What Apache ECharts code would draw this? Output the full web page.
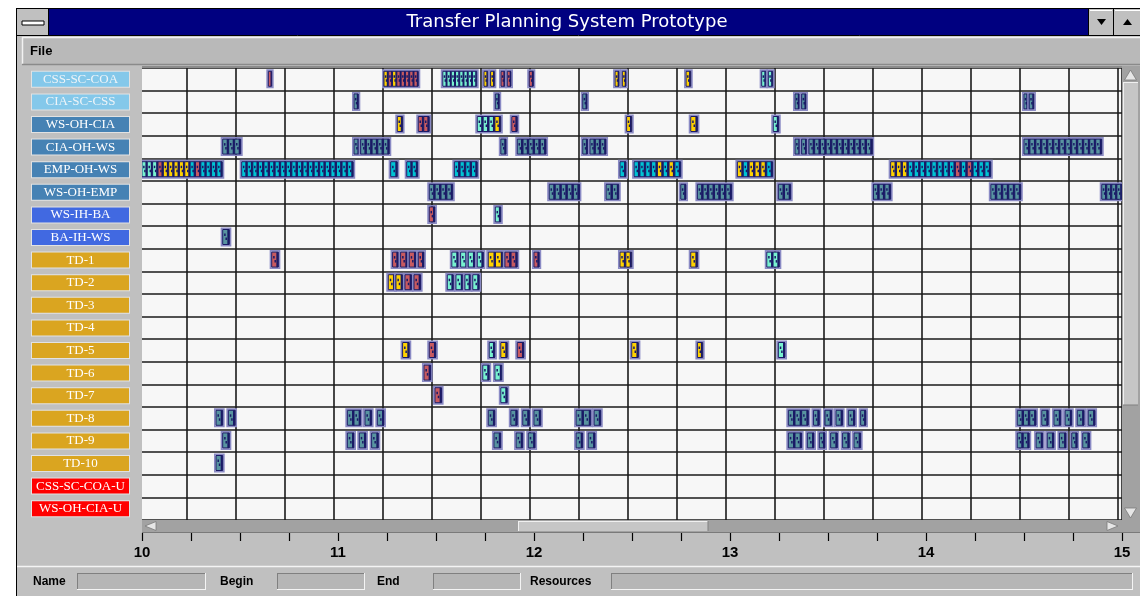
<!DOCTYPE html>
<html>
<head>
<meta charset="utf-8">
<script src="https://cdn.jsdelivr.net/npm/echarts@6/dist/echarts.min.js"></script>
<style>
html,body{margin:0;padding:0;background:#fff;}
#chart{width:1140px;height:596px;}
</style>
</head>
<body>
<div id="chart"></div>
<script>
// ---- categories (resource rows) ----
const categories = ['CSS-SC-COA','CIA-SC-CSS','WS-OH-CIA','CIA-OH-WS','EMP-OH-WS','WS-OH-EMP','WS-IH-BA','BA-IH-WS',
  'TD-1','TD-2','TD-3','TD-4','TD-5','TD-6','TD-7','TD-8','TD-9','TD-10','CSS-SC-COA-U','WS-OH-CIA-U'];
const labelKinds = ['sky','sky','steel','steel','steel','steel','royal','royal',
  'gold','gold','gold','gold','gold','gold','gold','gold','gold','gold','red','red'];
// ---- axis ticks (hours) ----
const hourTicks = [10, 11, 12, 13, 14, 15];

// ---- tasks per row: [start hour, end hour, unit colour codes] ----
const cssScCoa = [[10.665,10.682,'r'],[11.255,11.430,'yryrrrrr'],[11.555,11.728,'aaaaaaaa'],[11.765,11.784,'y'],[11.799,11.818,'y'],
  [11.852,11.871,'r'],[11.884,11.903,'r'],[11.996,12.017,'r'],[12.434,12.454,'y'],[12.471,12.490,'y'],[12.796,12.820,'y'],
  [13.182,13.203,'a'],[13.216,13.238,'a']];
const ciaScCss = [[11.102,11.124,'t'],[11.823,11.843,'t'],[12.269,12.291,'t'],[13.352,13.374,'t'],[13.386,13.408,'t'],
  [14.520,14.539,'t'],[14.547,14.571,'t']];
const wsOhCia = [[11.323,11.350,'y'],[11.430,11.486,'rr'],[11.731,11.851,'aaay'],[11.907,11.935,'r'],[12.493,12.519,'y'],
  [12.820,12.854,'y'],[13.241,13.269,'a']];
const ciaOhWs = [[10.432,10.524,'ttt'],[11.102,11.129,'t'],[11.136,11.282,'ttttt'],[11.851,11.878,'t'],[11.935,12.082,'ttttt'],
  [12.269,12.294,'t'],[12.306,12.388,'ttt'],[13.352,13.378,'t'],[13.386,13.412,'t'],[13.423,13.746,'ttttttttttt'],
  [14.520,14.917,'ttttttttttttt']];
const empOhWs = [[10.020,10.430,'aaaryyyyycrcccc'],[10.529,11.098,'cccccccccccccccccccc'],[11.289,11.323,'c'],[11.371,11.427,'cc'],
  [11.614,11.731,'cccc'],[12.459,12.490,'c'],[12.531,12.769,'ccccycyc'],[13.058,13.238,'ycyyyc'],[13.840,14.351,'yyyccccccccrcrccc']];
const wsOhEmp = [[11.486,11.606,'tttt'],[12.098,12.252,'ttttt'],[12.388,12.453,'tt'],[12.769,12.796,'t'],[12.854,13.029,'tttttt'],
  [13.267,13.330,'tt'],[13.752,13.840,'ttt'],[14.351,14.504,'ttttt'],[14.917,15.020,'tttt']];
const wsIhBa = [[11.486,11.515,'r'],[11.823,11.851,'a']];
const baIhWs = [[10.432,10.466,'t']];
const td1 = [[10.682,10.716,'r'],[11.299,11.328,'r'],[11.340,11.374,'r'],[11.384,11.418,'r'],[11.430,11.459,'r'],[11.601,11.634,'a'],
  [11.646,11.680,'a'],[11.685,11.719,'a'],[11.731,11.762,'a'],[11.787,11.861,'yy'],[11.872,11.935,'rr'],[12.020,12.047,'r'],
  [12.459,12.519,'yy'],[12.820,12.854,'y'],[13.208,13.272,'aa']];
const td2 = [[11.277,11.311,'y'],[11.316,11.350,'y'],[11.362,11.396,'r'],[11.408,11.442,'r'],[11.578,11.609,'a'],[11.622,11.657,'a'],
  [11.668,11.697,'a'],[11.708,11.741,'a']];
const td3 = [];
const td4 = [];
const td5 = [[11.350,11.384,'y'],[11.486,11.520,'r'],[11.792,11.821,'a'],[11.851,11.884,'y'],[11.935,11.969,'r'],[12.519,12.553,'y'],
  [12.854,12.881,'y'],[13.267,13.301,'a']];
const td6 = [[11.459,11.493,'r'],[11.759,11.792,'a'],[11.821,11.856,'a']];
const td7 = [[11.515,11.549,'r'],[11.851,11.884,'a']];
const td8 = [[10.398,10.432,'t'],[10.461,10.495,'t'],[11.068,11.136,'tt'],[11.158,11.192,'t'],[11.221,11.255,'t'],[11.787,11.821,'t'],
  [11.902,11.935,'t'],[11.963,11.996,'t'],[12.020,12.055,'t'],[12.235,12.310,'tt'],[12.327,12.361,'t'],[13.318,13.420,'ttt'],
  [13.446,13.476,'t'],[13.505,13.539,'t'],[13.561,13.595,'t'],[13.624,13.658,'t'],[13.687,13.714,'t'],[14.486,14.582,'ttt'],
  [14.611,14.644,'t'],[14.673,14.708,'t'],[14.730,14.764,'t'],[14.792,14.827,'t'],[14.848,14.883,'t']];
const td9 = [[10.432,10.466,'t'],[11.068,11.102,'t'],[11.129,11.163,'t'],[11.192,11.226,'t'],[11.816,11.851,'t'],[11.929,11.963,'t'],
  [11.991,12.026,'t'],[12.235,12.269,'t'],[12.297,12.332,'t'],[13.318,13.386,'tt'],[13.415,13.449,'t'],[13.476,13.505,'t'],
  [13.534,13.568,'t'],[13.595,13.629,'t'],[13.653,13.687,'t'],[14.486,14.547,'tt'],[14.582,14.616,'t'],[14.639,14.673,'t'],
  [14.701,14.735,'t'],[14.764,14.792,'t'],[14.820,14.854,'t']];
const td10 = [[10.398,10.432,'t']];
const cssScCoaU = [];
const wsOhCiaU = [];

const rows = [cssScCoa, ciaScCss, wsOhCia, ciaOhWs, empOhWs, wsOhEmp, wsIhBa, baIhWs, td1, td2, td3, td4, td5, td6, td7,
  td8, td9, td10, cssScCoaU, wsOhCiaU];

const unitColors = { c:'#00c4d4', a:'#78f2d0', t:'#5894a0', y:'#ffd200', r:'#c85a60' };
const navy = '#1a1a66';

const seriesData = [];
const codes = [];
rows.forEach((tasks, ri) => tasks.forEach(t => { seriesData.push([ri, t[0], t[1]]); codes.push(t[2]); }));

function renderItem(params, api) {
  const ri = api.value(0), s = api.value(1), e = api.value(2);
  const p0 = api.coord([s, ri]);
  const p1 = api.coord([e, ri]);
  const code = codes[params.dataIndex];
  const h = 15;
  const y = p0[1] - 8;
  const x0 = p0[0];
  const w = p1[0] - p0[0];
  const n = code.length;
  const uw = w / n;
  const children = [];
  children.push({type:'rect', shape:{x:x0-1.2, y:y-1.2, width:w+2.4, height:h+2.4},
    style:{fill:'none', stroke:'#8a8ac4', lineWidth:1.6}});
  for (let i = 0; i < n; i++) {
    const ux = x0 + i * uw;
    children.push({type:'rect', shape:{x:ux, y:y, width:uw, height:h},
      style:{fill:unitColors[code[i]], stroke:navy, lineWidth:1}});
    const sw = Math.min(2, uw * 0.35);
    children.push({type:'rect', shape:{x:ux + uw - sw, y:y, width:sw, height:h}, style:{fill:navy}});
    if (uw > 3.5) {
      children.push({type:'rect', shape:{x:ux + uw*0.22, y:y + 4, width:1.5, height:2.5}, style:{fill:navy}});
      children.push({type:'rect', shape:{x:ux + uw*0.42, y:y + 8, width:1.5, height:2.5}, style:{fill:navy}});
    }
  }
  return {type:'group', children};
}

const labelBase = {width:97, height:15, lineHeight:15, align:'center', verticalAlign:'middle',
  fontFamily:'Liberation Serif', fontSize:13, borderColor:'#e2e2e2', borderWidth:1};
const rich = {
  sky: Object.assign({}, labelBase, {backgroundColor:'#84c8ea', color:'#eef4f8'}),
  steel: Object.assign({}, labelBase, {backgroundColor:'#4682b4', color:'#ffffff'}),
  royal: Object.assign({}, labelBase, {backgroundColor:'#4169e1', color:'#ffffff'}),
  gold: Object.assign({}, labelBase, {backgroundColor:'#daa520', color:'#ffffff'}),
  red: Object.assign({}, labelBase, {backgroundColor:'#ff0000', color:'#ffffff'})
};

const G = '#c0c0c0';
const Z = 100;
function rect(x, y, w, h, fill, extra) {
  return Object.assign({type:'rect', z:Z, shape:{x, y, width:w, height:h}, style:{fill}}, extra || {});
}
function line(x1, y1, x2, y2, stroke, lw) {
  return {type:'line', z:Z+1, shape:{x1, y1, x2, y2}, style:{stroke, lineWidth: lw || 1}};
}
function txt(x, y, t, font, fill, align) {
  return {type:'text', z:Z+2, x, y, style:{text:t, font, fill, align: align || 'left', verticalAlign:'middle'}};
}
function poly(points, fill) {
  return {type:'polygon', z:Z+2, shape:{points}, style:{fill, stroke:'#7a7a7a', lineWidth:0.8}};
}
function field(x, y, w, h) {
  return [rect(x, y, w, h, '#b6b6b6'), line(x, y+0.5, x+w, y+0.5, '#808080'), line(x+0.5, y, x+0.5, y+h, '#808080'),
    line(x, y+h-0.5, x+w, y+h-0.5, '#f4f4f4'), line(x+w-0.5, y, x+w-0.5, y+h, '#f4f4f4')];
}

const graphics = [].concat(
  [rect(0, 0, 1140, 8, '#ffffff'), rect(0, 0, 16, 596, '#ffffff'),
   line(16.5, 8, 16.5, 596, '#000', 1), line(16, 8.5, 1140, 8.5, '#000', 1),
   // title bar
   rect(17, 9, 1123, 26, '#000080'),
   rect(17, 9, 31, 26, G), line(48.5, 9, 48.5, 35, '#000', 1),
   rect(22, 21, 22, 4, '#ffffff', {style:{fill:'#ffffff', stroke:'#000', lineWidth:1}}),
   txt(567, 22.5, 'Transfer Planning System Prototype', '18px "DejaVu Sans"', '#ffffff', 'center'),
   rect(1089, 9, 24, 26, G), rect(1114, 9, 26, 26, G),
   line(1088.5, 9, 1088.5, 35, '#000'), line(1113.5, 9, 1113.5, 35, '#000'),
   line(1090, 10.5, 1112, 10.5, '#fff'), line(1115, 10.5, 1140, 10.5, '#fff'),
   {type:'polygon', z:Z+2, shape:{points:[[1097,19],[1106,19],[1101.5,25]]}, style:{fill:'#000'}},
   {type:'polygon', z:Z+2, shape:{points:[[1123,25],[1132,25],[1127.5,19]]}, style:{fill:'#000'}},
   line(17, 35.5, 1140, 35.5, '#000', 1),
   // menu bar
   rect(17, 36, 1123, 30, G),
   rect(22, 38, 1118, 26, '#b9b9b9'),
   line(22, 37.5, 1140, 37.5, '#f2f2f2', 1.5), line(22.5, 37, 22.5, 64, '#f2f2f2', 1.5),
   line(22, 64.5, 1140, 64.5, '#8a8a8a', 1.5),
   txt(30, 51.5, 'File', 'bold 13px "Liberation Sans"', '#000'),
   // mask left edge of plot and plot top edge
   rect(130, 66, 12, 456, G),
   line(142, 67, 1122, 67, '#8c8c8c', 2),
   // horizontal scrollbar
   rect(142, 520, 980, 12, '#a2a2a2'),
   rect(518, 521, 190, 10, '#c6c6c6'), line(518, 521.5, 708, 521.5, '#f0f0f0'), line(518.5, 521, 518.5, 531, '#f0f0f0'),
   line(708, 521, 708, 531, '#808080'),
   poly([[145,526],[156,521.5],[156,530.5]], '#e6e6e6'),
   poly([[1118,526],[1107,521.5],[1107,530.5]], '#e6e6e6'),
   line(142, 532.5, 1140, 532.5, '#7a7a7a', 1),
   // vertical scrollbar
   rect(1122, 66, 18, 466, '#a2a2a2'),
   rect(1123, 82, 15, 323, '#c6c6c6'), line(1123.5, 82, 1123.5, 405, '#f0f0f0'), line(1123, 82.5, 1138, 82.5, '#f0f0f0'),
   line(1123, 405, 1138, 405, '#808080'),
   poly([[1130.5,70],[1124.5,80],[1136.5,80]], '#e6e6e6'),
   poly([[1124.5,508],[1136.5,508],[1130.5,518]], '#e6e6e6'),
   // status bar
   rect(17, 566, 1123, 30, G),
   line(17, 566.5, 1140, 566.5, '#f4f4f4', 1.5),
   txt(33, 581.5, 'Name', 'bold 12px "Liberation Sans"', '#000'),
   txt(220, 581.5, 'Begin', 'bold 12px "Liberation Sans"', '#000'),
   txt(377, 581.5, 'End', 'bold 12px "Liberation Sans"', '#000'),
   txt(530, 581.5, 'Resources', 'bold 12px "Liberation Sans"', '#000')],
  field(77, 573, 129, 17), field(277, 573, 88, 17), field(433, 573, 88, 17), field(611, 573, 522, 17)
);

const chart = echarts.init(document.getElementById('chart'), null, {renderer:'canvas'});
chart.setOption({
  backgroundColor: G,
  animation: false,
  grid: [
    {left:138, top:68, width:984, height:452, show:true, backgroundColor:'#f7f7f7', borderWidth:0},
    {left:142, top:532, width:980, height:1, show:false}
  ],
  xAxis: [
    {gridIndex:0, type:'value', min:10, max:15.0204, interval:0.25,
     axisLine:{show:false}, axisTick:{show:false}, axisLabel:{show:false},
     splitLine:{show:true, lineStyle:{color:'#1a1a1a', width:1.6}}},
    {gridIndex:1, type:'value', min:10, max:15, interval:0.25, position:'bottom',
     axisLine:{show:false}, splitLine:{show:false},
     axisTick:{show:true, length:8, lineStyle:{color:'#000', width:1.2}},
     axisLabel:{show:true, margin:12, color:'#000', fontWeight:'bold', fontSize:15, fontFamily:'Liberation Sans',
       formatter: v => (hourTicks.indexOf(v) >= 0 ? String(v) : '')}}
  ],
  yAxis: [
    {gridIndex:0, type:'category', data:categories, inverse:true,
     axisLine:{show:false}, axisTick:{show:false},
     splitLine:{show:true, lineStyle:{color:'#1a1a1a', width:1.6}},
     axisLabel:{interval:0, margin:9, formatter:(v, i) => '{' + labelKinds[i] + '|' + v + '}', rich}},
    {gridIndex:1, type:'value', show:false}
  ],
  series: [{
    type:'custom', xAxisIndex:0, yAxisIndex:0, clip:true,
    encode:{x:[1,2], y:0},
    data: seriesData,
    renderItem
  }],
  graphic: graphics
});
</script>
</body>
</html>
